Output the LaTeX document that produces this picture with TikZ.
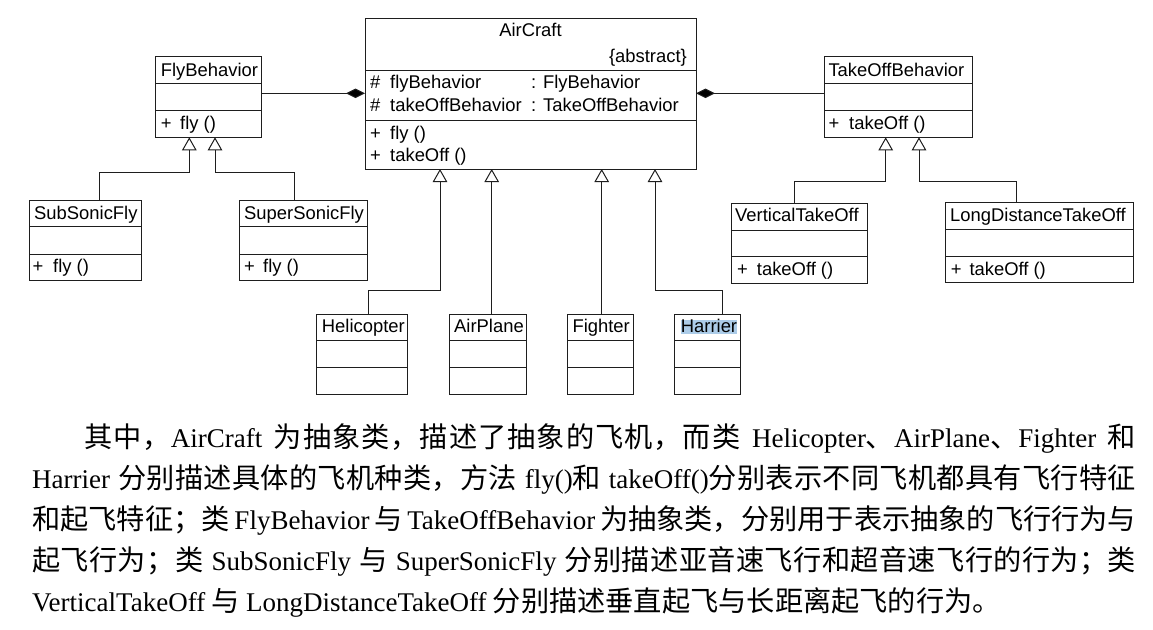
\documentclass[tikz,border=0pt]{standalone}
\usepackage{fontspec}
\setmainfont{Liberation Sans}
\newfontfamily\cjk[Scale=1.045]{Noto Sans CJK SC}
\newfontfamily\tnfont{Liberation Serif}
\newcommand\tn[1]{{\tnfont #1}}
\usetikzlibrary{arrows.meta}
\definecolor{ln}{RGB}{30,30,30}
\definecolor{hl}{RGB}{172,204,232}
\newcommand\dfont{\fontsize{18.4}{22}\selectfont}
\newcommand\pfont{\fontsize{27}{41}\selectfont\cjk}
\newcount\cjkc
\cjkc="4E00
\loop \XeTeXcharclass\cjkc=10 \advance\cjkc 1 \ifnum\cjkc<"A000 \repeat
\XeTeXcharclass"FF0C=10 \XeTeXcharclass"FF1B=10
\XeTeXcharclass"3001=10 \XeTeXcharclass"3002=10
\XeTeXinterchartokenstate=1
\XeTeXinterchartoks 10 10 = {\hskip 0pt plus 0.6pt\relax}
\XeTeXinterchartoks 0 10 = {\hskip 0pt plus 0.6pt\relax}
\XeTeXinterchartoks 10 0 = {\hskip 0pt plus 0.6pt\relax}
\tikzset{
  clsbox/.style={draw=ln, line width=1pt, anchor=north west, inner sep=0pt, outer sep=0pt},
  clsline/.style={draw=ln, line width=1pt},
  lbl/.style={anchor=base west, inner sep=0pt, font=\dfont},
  lblc/.style={anchor=base, inner sep=0pt, font=\dfont},
  lble/.style={anchor=base east, inner sep=0pt, font=\dfont},
  inh/.style={draw=ln, line width=1pt, -{Triangle[open, length=13pt, width=14.5pt, fill=white]}},
  comp/.style={draw=ln, line width=1pt, -{Diamond[length=19pt, width=9.5pt, fill=black]}},
  para/.style={anchor=base west, inner sep=0pt, font=\pfont},
}
\newcommand\umlclass[7]{%
  \node[clsbox, minimum width={(#4-#2)*1pt}, minimum height={(#5-#3)*1pt}] (#1) at (#2,#3) {};
  \draw[clsline] (#1.west |- 0,#6) -- (#1.east |- 0,#6);
  \draw[clsline] (#1.west |- 0,#7) -- (#1.east |- 0,#7);
}
\begin{document}
\begin{tikzpicture}[x=1pt, y=-1pt]
\useasboundingbox (0,0) rectangle (1153,629);
\fill[white] (0,0) rectangle (1153,629);

% AirCraft
\umlclass{ac}{365}{18}{696}{169}{70.7}{120}
\node[lblc] (ac-t) at (530.5,36.7) {AirCraft};
\node[lble] (ac-abs) at (687,62.7) {\{abstract\}};
\node[lbl] (ac-h1) at (370,88.3) {\#};
\node[lbl] (ac-a1) at (390,88.3) {flyBehavior};
\node[lbl] (ac-y1) at (531,88.3) {: FlyBehavior};
\node[lbl] (ac-h2) at (370,111) {\#};
\node[lbl] (ac-a2) at (390,111) {takeOffBehavior};
\node[lbl] (ac-y2) at (531,111) {: TakeOffBehavior};
\node[lbl] (ac-p1) at (370,139.3) {+};
\node[lbl] (ac-o1) at (390,139.3) {fly ()};
\node[lbl] (ac-p2) at (370,161.7) {+};
\node[lbl] (ac-o2) at (390,161.7) {takeOff ()};

% FlyBehavior
\umlclass{fb}{155.7}{56.7}{261.7}{137.3}{83.3}{110.7}
\node[lbl] (fb-t) at (160.7,76) {FlyBehavior};
\node[lbl] (fb-p) at (160.7,129.5) {+};
\node[lbl] (fb-o) at (180,129.5) {fly ()};

% SubSonicFly
\umlclass{ssf}{29}{200}{141.7}{280.7}{226.7}{254}
\node[lbl] (ssf-t) at (34,219) {SubSonicFly};
\node[lbl] (ssf-p) at (32.5,272.5) {+};
\node[lbl] (ssf-o) at (53,272.5) {fly ()};

% SuperSonicFly
\umlclass{spf}{239}{200}{367.7}{280.7}{226.7}{254}
\node[lbl] (spf-t) at (244,219) {SuperSonicFly};
\node[lbl] (spf-p) at (244,272.5) {+};
\node[lbl] (spf-o) at (263,272.5) {fly ()};

% TakeOffBehavior
\umlclass{tb}{824.3}{56}{972.7}{137.3}{83.3}{110.7}
\node[lbl] (tb-t) at (828.3,76) {TakeOffBehavior};
\node[lbl] (tb-p) at (828.3,129) {+};
\node[lbl] (tb-o) at (849,129) {takeOff ()};

% VerticalTakeOff
\umlclass{vt}{731.7}{203.3}{867.3}{283.3}{230.7}{256.7}
\node[lbl] (vt-t) at (735,221.7) {VerticalTakeOff};
\node[lbl] (vt-p) at (737,275) {+};
\node[lbl] (vt-o) at (756.7,275) {takeOff ()};

% LongDistanceTakeOff
\umlclass{ld}{945}{202.7}{1133.3}{282.3}{229.7}{256}
\node[lbl] (ld-t) at (950,221) {LongDistanceTakeOff};
\node[lbl] (ld-p) at (950.7,275) {+};
\node[lbl] (ld-o) at (969.3,275) {takeOff ()};

% concrete aircraft
\umlclass{he}{316}{314}{407.7}{394}{340.7}{367.3}
\node[lbl] (he-t) at (321.7,332.7) {Helicopter};
\umlclass{ap}{449.3}{314}{526.3}{394}{340.7}{367.3}
\node[lbl] (ap-t) at (454,332.7) {AirPlane};
\umlclass{fi}{567.7}{314}{633.3}{394}{340.7}{367.3}
\node[lbl] (fi-t) at (572.3,332.7) {Fighter};
\umlclass{ha}{674.7}{314}{740.7}{394}{340.7}{367.3}
\node[lbl, fill=hl, text height=13pt, text depth=1pt] (ha-t) at (680.7,332.7) {Harrier};

% connectors
\draw[comp] (fb.east |- 0,93.3) -- (ac.west |- 0,93.3);
\draw[comp] (tb.west |- 0,93.3) -- (ac.east |- 0,93.3);
\draw[inh] (ssf.north -| 99,0) |- (189.3,172.7) -- (fb.south -| 189.3,0);
\draw[inh] (spf.north -| 294,0) |- (215,172.7) -- (fb.south -| 215,0);
\draw[inh] (vt.north -| 794.3,0) |- (885.7,181) -- (tb.south -| 885.7,0);
\draw[inh] (ld.north -| 1016,0) |- (919,181) -- (tb.south -| 919,0);
\draw[inh] (he.north -| 368.3,0) |- (440,290) -- (ac.south -| 440,0);
\draw[inh] (ap.north -| 491.7,0) -- (ac.south -| 491.7,0);
\draw[inh] (fi.north -| 601.7,0) -- (ac.south -| 601.7,0);
\draw[inh] (ha.north -| 722.3,0) |- (655,290) -- (ac.south -| 655,0);

% paragraph
\node[para] (p1) at (84,447.5) {\makebox[1052pt][s]{其中，\tn{AirCraft} 为抽象类，描述了抽象的飞机，而类 \tn{Helicopter}、\tn{AirPlane}、\tn{Fighter} 和}};
\node[para] (p2) at (32,488.6) {\makebox[1104pt][s]{\tn{Harrier} 分别描述具体的飞机种类，方法 \tn{fly()}和 \tn{takeOff()}分别表示不同飞机都具有飞行特征}};
\node[para] (p3) at (32,529.7) {\makebox[1104pt][s]{和起飞特征；类 \tn{FlyBehavior} 与 \tn{TakeOffBehavior} 为抽象类，分别用于表示抽象的飞行行为与}};
\node[para] (p4) at (32,570.8) {\makebox[1104pt][s]{起飞行为；类 \tn{SubSonicFly} 与 \tn{SuperSonicFly} 分别描述亚音速飞行和超音速飞行的行为；类}};
\node[para] (p5) at (32,611.9) {\tn{VerticalTakeOff} 与 \tn{LongDistanceTakeOff} 分别描述垂直起飞与长距离起飞的行为。};
\end{tikzpicture}
\end{document}
